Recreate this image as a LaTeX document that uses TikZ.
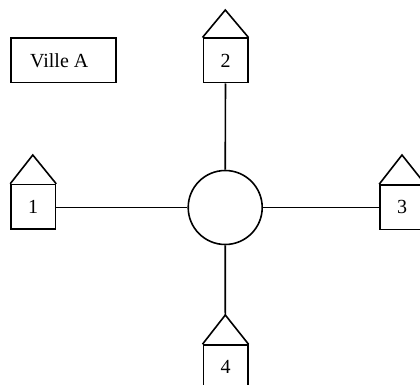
\documentclass[tikz,border=0pt]{standalone}
\usepackage{fontspec}
\setmainfont{Liberation Serif}
\tikzset{
  boxnode/.style={draw,line width=1.6pt,minimum width=44.4pt,minimum height=44.4pt,inner sep=0pt,font=\fontsize{20}{23}\selectfont},
  roof/.style={draw,line width=1.6pt,line join=miter},
  wire/.style={draw,line width=1.6pt},
  hub/.style={draw,circle,line width=1.6pt,minimum size=74pt,inner sep=0pt}
}
\begin{document}
\begin{tikzpicture}[x=1pt,y=-1pt]
\clip (0,0) rectangle (420,385);
\useasboundingbox (0,0) rectangle (420,385);
\node[boxnode,minimum width=105pt] (ville) at (63.2,60.5) {\raisebox{-1pt}{Ville A}\hspace*{8pt}};
\node[hub] (c) at (225.2,207.5) {};
\node[boxnode] (h2) at (225.5,60.5) {2};
\node[boxnode] (h1) at (33.2,206.8) {1};
\node[boxnode] (h3) at (402.2,207.2) {3};
\node[boxnode] (h4) at (225.5,367.2) {4};
\coordinate (a2) at (225.3,10);
\coordinate (a1) at (32.8,155);
\coordinate (a3) at (402,155);
\coordinate (a4) at (225.3,315);
\foreach \n in {1,2,3,4}{
  \draw[roof] (h\n.north west) -- (a\n) -- (h\n.north east);
}
\draw[wire] (h2.south) -- (c.north);
\draw[wire] (h1.east |- c.west) -- (c.west);
\draw[wire] (h3.west |- c.east) -- (c.east);
\draw[wire] (a4) -- (c.south);
\end{tikzpicture}
\end{document}
